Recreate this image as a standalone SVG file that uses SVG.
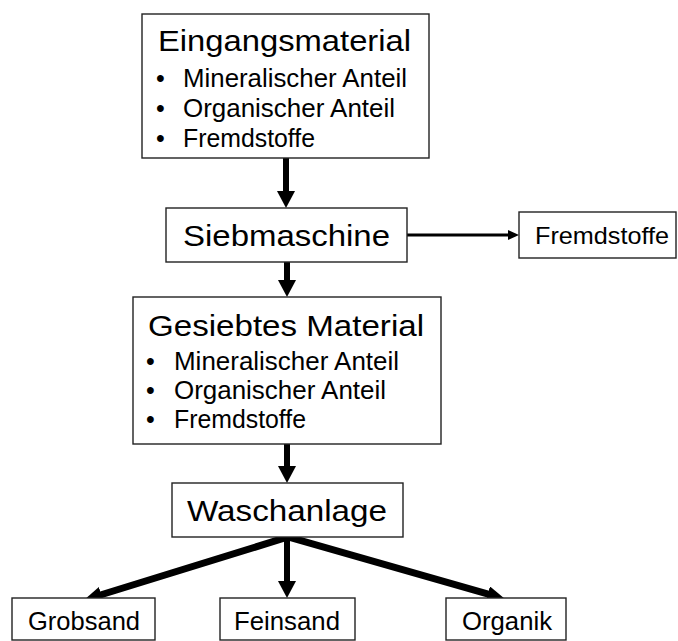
<svg xmlns="http://www.w3.org/2000/svg" width="678" height="641" viewBox="0 0 678 641">
<defs>
<style>
.box{fill:#fff;stroke:#222;stroke-width:1.4}
text{font-family:"Liberation Sans",Arial,sans-serif;fill:#000}
.t30{font-size:30px}
.t25{font-size:25px}
.t24{font-size:24px}
.thick{stroke:#000;stroke-width:6;fill:none}
.diag{stroke:#000;stroke-width:7;fill:none;stroke-linejoin:miter}
.thin{stroke:#000;stroke-width:3;fill:none}
</style>
<marker id="headV" markerUnits="userSpaceOnUse" markerWidth="18" markerHeight="18" refX="7" refY="9" orient="auto"><path d="M0,0 L17,9 L0,18 z" fill="#000"/></marker>
<marker id="headD" markerUnits="userSpaceOnUse" markerWidth="19" markerHeight="17" refX="6" refY="8" orient="auto-start-reverse"><path d="M0,0 L18,8 L0,16 z" fill="#000"/></marker>
<marker id="headH" markerUnits="userSpaceOnUse" markerWidth="12" markerHeight="10" refX="4" refY="5" orient="auto"><path d="M0,0 L11,5 L0,10 z" fill="#000"/></marker>
</defs>
<rect width="678" height="641" fill="#fff"/>
<g id="connectors">
<line class="thick" x1="286" y1="158" x2="286" y2="198" marker-end="url(#headV)"/>
<line class="thick" x1="287" y1="262" x2="287" y2="287" marker-end="url(#headV)"/>
<line class="thick" x1="287" y1="444" x2="287" y2="473" marker-end="url(#headV)"/>
<line class="thin" x1="407" y1="235" x2="512" y2="235" marker-end="url(#headH)"/>
<path class="diag" d="M95.5,596.5 L288,537 L493.5,595.7" marker-start="url(#headD)" marker-end="url(#headD)"/>
<line class="thick" x1="287" y1="537" x2="287" y2="588" marker-end="url(#headV)"/>
</g>
<g id="eingangsmaterial">
<rect class="box" x="142" y="14" width="287" height="144"/>
<text class="t30" x="158" y="51" textLength="253" lengthAdjust="spacingAndGlyphs">Eingangsmaterial</text>
<text class="t25" x="156" y="87">•</text>
<text class="t25" x="183" y="87" textLength="224" lengthAdjust="spacingAndGlyphs">Mineralischer Anteil</text>
<text class="t25" x="156" y="117">•</text>
<text class="t25" x="183" y="117" textLength="212" lengthAdjust="spacingAndGlyphs">Organischer Anteil</text>
<text class="t25" x="156" y="147">•</text>
<text class="t25" x="183" y="147" textLength="132" lengthAdjust="spacingAndGlyphs">Fremdstoffe</text>
</g>
<g id="siebmaschine">
<rect class="box" x="166" y="208" width="241" height="54"/>
<text class="t30" x="183" y="246" textLength="207" lengthAdjust="spacingAndGlyphs">Siebmaschine</text>
</g>
<g id="fremdstoffe">
<rect class="box" x="519" y="212" width="157" height="46"/>
<text class="t24" x="535" y="244" textLength="134" lengthAdjust="spacingAndGlyphs">Fremdstoffe</text>
</g>
<g id="gesiebtes-material">
<rect class="box" x="133" y="297" width="308" height="147"/>
<text class="t30" x="148" y="336" textLength="276" lengthAdjust="spacingAndGlyphs">Gesiebtes Material</text>
<text class="t25" x="146" y="370">•</text>
<text class="t25" x="174" y="370" textLength="225" lengthAdjust="spacingAndGlyphs">Mineralischer Anteil</text>
<text class="t25" x="146" y="399">•</text>
<text class="t25" x="174" y="399" textLength="212" lengthAdjust="spacingAndGlyphs">Organischer Anteil</text>
<text class="t25" x="146" y="428">•</text>
<text class="t25" x="174" y="428" textLength="132" lengthAdjust="spacingAndGlyphs">Fremdstoffe</text>
</g>
<g id="waschanlage">
<rect class="box" x="172" y="483" width="231" height="54"/>
<text class="t30" x="187" y="521" textLength="200" lengthAdjust="spacingAndGlyphs">Waschanlage</text>
</g>
<g id="grobsand">
<rect class="box" x="12" y="598" width="143" height="42"/>
<text class="t25" x="28" y="630" textLength="112" lengthAdjust="spacingAndGlyphs">Grobsand</text>
</g>
<g id="feinsand">
<rect class="box" x="220" y="598" width="135" height="42"/>
<text class="t25" x="234" y="630" textLength="106" lengthAdjust="spacingAndGlyphs">Feinsand</text>
</g>
<g id="organik">
<rect class="box" x="446" y="598" width="120" height="42"/>
<text class="t25" x="462" y="630" textLength="90" lengthAdjust="spacingAndGlyphs">Organik</text>
</g>
</svg>
